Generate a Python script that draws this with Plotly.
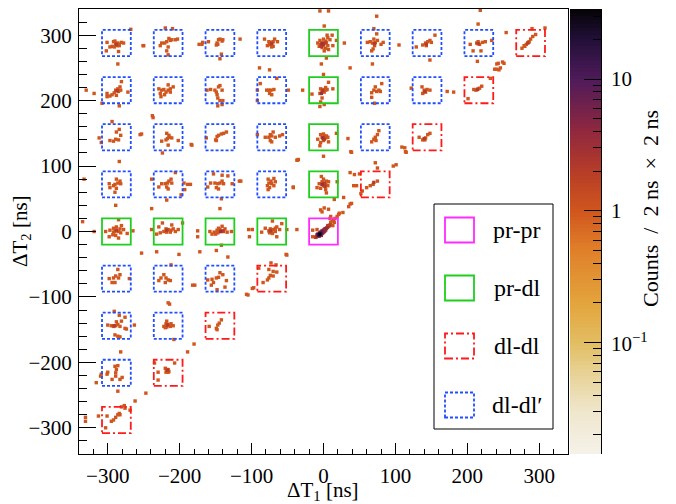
import numpy as np
import plotly.graph_objects as go

# ---------------- data ----------------
# timing windows (ns): centres on a 72 ns grid
grid_dt1 = [-288, -216, -144, -72, 0, 72, 144, 216, 288]
grid_dt2 = [288, 216, 144, 72, 0, -72, -144, -216, -288]
half_width = 20
# window type for each (ΔT2 row, ΔT1 column): m=pr-pr, g=pr-dl, r=dl-dl, b=dl-dl'
box_types = [
    ["b", "b", "b", "b", "g", "b", "b", "b", "r"],
    ["b", "b", "b", "b", "g", "b", "b", "r", ""],
    ["b", "b", "b", "b", "g", "b", "r", "", ""],
    ["b", "b", "b", "b", "g", "r", "", "", ""],
    ["g", "g", "g", "g", "m", "", "", "", ""],
    ["b", "b", "b", "r", "", "", "", "", ""],
    ["b", "b", "r", "", "", "", "", "", ""],
    ["b", "r", "", "", "", "", "", "", ""],
    ["r", "", "", "", "", "", "", "", ""],
]
legend_labels = ["pr-pr", "pr-dl", "dl-dl", "dl-dl\u2032"]

# single-count bins (ΔT1, ΔT2) in ns
single_dt1 = [
    -268, -301, -297, -302, -292, -290, -286, -287, -294, -291, -284, -281, -278, -285, -286, -251, -289, -285,
    -220, -210, -215, -227, -221, -218, -213, -211, -206, -203, -216, -218, -216, -225,
    -168, -169, -160, -148, -146, -144, -141, -147, -149, -142, -144, -116, -140, -173,
    -82, -76, -72, -70, -73, -70, -64, -68, -78, -75, -72,
    -5, 7, 1, 12, 6, 0, 3, -2, 4, -4, 0, 6, -6, -2, 3, 13, 18, 7, 1, 4, -3, 29, 5, 9, -8, -5,
    74, 70, 74, 70, 75, 72, 68, 61, 65, 83, 71, 69, 67, 68, 105, 37, 80,
    155, 148, 145, 142, 138, 143, 129, 148, 150,
    218, 215, 215, 213, 217, 204, 208, 219, 225, 234, 214, 221,
    276, 279, 282, 286, 288, 291, 295, 290, 308, 254, 280, 285,
    241, 243, 249, 238, 241, 244, 246, 251,
    -330, -319, -308, -281, -283, -286, -289, -285, -291, -294, -297, -301, -301, -272, -284, -288, -282,
    -216, -229, -225, -222, -219, -216, -213, -209, -221, -226, -213, -227,
    -162, -157, -151, -149, -146, -144, -141, -147, -144, -140, -147, -141, -148,
    -89, -75, -65, -88, -92, -79, -76, -73, -69, -75, -72, -49, -29, -92,
    0, 7, 3, -4, 0, 5, 1, -5, 13, -16, -2, -4, -5, 1, 3, -2,
    81, 72, 77, 70, 67, 74, 79, 67, 71,
    122, 137, 140, 144, 148, 138, 142, 172, 181,
    232, 220, 215, 212, 209, 201, 217,
    -294, -284, -288, -312, -309, -297, -292, -289, -285, -282, -255, -253,
    -237, -218, -215, -214, -217, -211, -219, -225, -216, -202, -224, -183,
    -163, -150, -148, -146, -142, -139, -135, -149,
    -70, -74, -81, -76, -72, -67, -61, -57, -74, -72, -92,
    18, -4, 0, 4, -2, 3, 6, -8, 0, -4, -5, 7, 1,
    77, 75, 72, 70, 67, 73, 109, 34, 38,
    148, 145, 142, 138, 133, 141, 113, 115, 39, -36,
    -184, -238, -239, -37, -42, -144, -250,
    -284, -288, -283, -286, -290, -282, -298, -292, -297, -288, -290, -289, -333,
    -212, -215, -217, -220, -225, -211, -229, -218, -216, -206, -239, -194, -189, -185, -193, -198, -218,
    -153, -141, -133, -141, -144, -147, -151, -139, -157, -161, -149, -146, -127, -117, -142,
    -77, -69, -73, -67, -76, -72, -78, -69, -75, -77, -42, -115, -35,
    0, -3, 0, 4, -2, 7, -6, 3, 0, 6, -9, -4, 3, 4, 19, 15,
    72, 75, 97, 101, 37, 43, 50, 75, 69, 65, 60, 54, 52, 42, 46, 114,
    28, 37, 39, 35, 27, 22, 7, 1, -4, -2,
    -285, -281, -288, -292, -283, -297, -290, -285, -278, -303, -293, -289, -298, -285, -273, -265, -319, -335, -282, -292,
    -224, -211, -229, -219, -216, -212, -209, -222, -218, -213, -206, -202, -227, -232, -239, -196, -175, -175,
    -141, -146, -137, -148, -144, -139, -152, -155, -134, -128, -158, -147, -142, -150, -144,
    -71, -58, -65, -81, -74, -70, -76, -72, -67, -61, -75, -71, -65, -86, -104, -99, -103, -37, -51, -67,
    -15, -9, -15, 10, 12, 14, 16, 19, 21, 9, 10, 15, 13,
    -253, -232, -201, -172, -149, -133, -52, -179, -107, -99,
    -286, -289, -292, -285, -294, -290, -270, -298, -283,
    -212, -222, -219, -226, -216, -213, -220, -229, -182,
    -144, -140, -146, -149, -155, -161, -153, -135, -148, -137, -156,
    -73, -51, -66, -76, -70, -65, -74, -70, -76, -78, -84, -90, -97, -105,
    -291, -284, -276, -300, -295, -292, -289, -286, -283, -288, -281, -276, -274, -263, -286, -283, -290,
    -216, -214, -218, -219, -216, -212, -222, -218, -213, -209, -220, -208,
    -159, -149, -147, -145, -142, -148,
    -180, -189, -247, -262,
    -220, -218, -216, -219, -216, -215, -230, -230, -207, -235,
    -282, -290, -286, -288, -289, -289, -300, -301, -309, -310, -294, -283, -280, -286, -316,
    -277, -281, -276, -284, -286, -289, -283, -292, -295, -301, -313, -303, -331, -331, -269,
]
single_dt2 = [
    309, 289, 282, 276, 290, 291, 288, 284, 283, 282, 284, 289, 288, 275, 256, 284, 287, 286,
    311, 310, 295, 284, 288, 290, 292, 293, 293, 294, 282, 276, 270, 288,
    289, 286, 290, 288, 293, 294, 291, 286, 285, 271, 264, 294, 293, 286,
    294, 290, 289, 290, 285, 283, 290, 294, 284, 286, 282,
    337, 337, 314, 300, 296, 294, 291, 289, 289, 286, 286, 284, 283, 281, 280, 284, 292, 278, 276, 265, 256, 288, 300, 293, 288, 292,
    329, 310, 302, 294, 292, 289, 288, 289, 290, 289, 284, 279, 276, 256, 285, 250, 286,
    300, 292, 290, 288, 285, 284, 282, 262, 289,
    338, 317, 290, 288, 286, 286, 276, 276, 290, 292, 260, 289,
    280, 284, 286, 290, 294, 298, 301, 310, 311, 304, 283, 289,
    256, 257, 259, 248, 248, 247, 250, 257,
    216, 211, 196, 229, 221, 218, 216, 214, 212, 209, 207, 206, 211, 213, 192, 208, 216,
    224, 218, 216, 217, 213, 216, 218, 221, 209, 206, 213, 211,
    216, 217, 216, 213, 221, 223, 216, 204, 200, 200, 192, 194, 209,
    250, 247, 234, 226, 216, 216, 216, 216, 217, 211, 209, 216, 216, 200,
    240, 228, 220, 218, 217, 217, 213, 211, 218, 210, 204, 198, 191, 194, 216, 214,
    226, 221, 216, 216, 212, 214, 214, 205, 196,
    219, 221, 216, 217, 216, 211, 213, 214, 213,
    234, 222, 218, 216, 217, 203, 219,
    168, 156, 152, 143, 136, 139, 138, 141, 140, 147, 148, 149,
    174, 150, 147, 144, 142, 143, 140, 138, 132, 139, 120, 132,
    143, 140, 145, 147, 149, 150, 152, 139,
    152, 148, 144, 144, 146, 144, 146, 148, 139, 137, 148,
    150, 148, 149, 146, 144, 143, 144, 141, 139, 136, 131, 137, 146,
    154, 148, 144, 141, 137, 139, 129, 142, 122,
    150, 148, 143, 140, 144, 140, 128, 121, 121, 109,
    133, 177, 35, 109, 68, 35, 284,
    107, 80, 77, 74, 72, 73, 73, 70, 67, 66, 60, 40, 80,
    80, 77, 74, 73, 73, 74, 68, 68, 65, 90, 80, 74, 72, 72, 64, 56, 48,
    88, 86, 85, 77, 74, 73, 74, 73, 74, 68, 67, 65, 73, 77, 50,
    80, 81, 77, 76, 74, 73, 70, 70, 67, 64, 67, 77, 110,
    115, 84, 80, 77, 76, 76, 73, 72, 70, 70, 67, 66, 64, 59, 76, 49,
    105, 97, 100, 102, 90, 87, 88, 77, 72, 70, 67, 62, 58, 70, 70, 122,
    52, 42, 43, 38, 29, 28, 34, 36, 33, 30,
    18, 9, 7, 5, 4, 2, 0, 0, 3, 0, -5, -6, -8, -10, -3, 1, 0, 15, -2, -1,
    13, 10, 7, 4, 3, 2, 4, 0, -1, -1, 0, 3, -2, -4, 3, 13, 1, -8,
    8, 5, 4, 2, 0, 0, -1, -4, -1, 0, 0, -2, -21, -4, 3,
    16, 12, 7, 5, 4, 3, 1, 0, 0, 3, -2, -3, -8, -1, 3, 3, -8, 3, 3, 5,
    2, 3, -8, 14, 16, 18, 20, 23, 26, 20, 23, 14, 9,
    -33, -31, -35, -31, -29, -39, -35, -82, -96, -87,
    -58, -68, -71, -71, -78, -78, -72, -72, -66,
    -51, -66, -71, -71, -74, -75, -78, -75, -82,
    -63, -66, -70, -71, -73, -74, -78, -75, -89, -85, -82,
    -48, -36, -51, -58, -61, -62, -67, -68, -71, -74, -78, -56, -86, -97,
    -122, -128, -131, -143, -144, -145, -144, -142, -145, -138, -137, -148, -149, -143, -160, -161, -158,
    -109, -111, -137, -141, -142, -141, -145, -146, -145, -144, -147, -165,
    -145, -148, -143, -140, -135, -150,
    -172, -184, -247, -259,
    -209, -211, -211, -215, -215, -214, -215, -227, -201, -201,
    -184, -206, -205, -211, -216, -221, -215, -218, -218, -221, -226, -226, -223, -244, -231,
    -266, -268, -270, -278, -280, -284, -280, -288, -290, -282, -282, -300, -284, -290, -273,
]

# multi-count bins
multi_dt1 = [
    -2, 0, 2, -3, -1, -3, -1, 1, -2, 1, 2, -143, -140, -288, -74, -218, 284, -72, 71, 143, 215,
    -217, -217, -291, -288, -287, 70, 140, 214, 141,
    -10, -9, 2, 3, -2, 1, 0, -6, -1, 3, -5, -2, -4, 4, 0, 5, 6, 7, 8, -3, -7, -4, -6, -5,
    -8, -7, -4, -2, 1, 2, -6, -3, -11, -9, 6, 9,
]
multi_dt2 = [
    287, 285, 288, 283, 215, 211, 143, 141, 72, 74, 69, 0, 1, 2, 1, 2, 288, 287, 287, 286, 287,
    -212, -143, -144, 286, 215, 75, 142, 217, 214,
    -8, -7, 1, 2, 1, 0, 2, -3, -2, 4, -2, -3, -5, 5, -1, 6, 7, 8, 9, -2, -5, -3, -5, -4,
    -4, -7, -1, 0, 3, 4, -7, -6, -9, -5, 9, 10,
]
multi_counts = [
    3, 2, 2, 2, 2, 3, 3, 2, 3, 2, 2, 3, 2, 2, 2, 2, 2, 2, 2, 2, 2,
    2, 2, 2, 2, 2, 2, 2, 2, 2,
    2, 3, 2, 2, 3, 3, 4, 6, 4, 4, 5, 5, 6, 3, 3, 3, 2, 2, 2, 8, 12, 10, 20, 30,
    6, 5, 8, 6, 4, 3, 4, 3, 2, 3, 2, 2,
]

# colour axis (counts, log scale)
z_min, z_max = 0.0143, 34.0
cbar_major = [0.1, 1, 10]
cbar_major_text = ["10<sup>\u22121</sup>", "1", "10"]
cbar_minor = [0.02, 0.03, 0.04, 0.05, 0.06, 0.07, 0.08, 0.09,
              0.2, 0.3, 0.4, 0.5, 0.6, 0.7, 0.8, 0.9,
              2, 3, 4, 5, 6, 7, 8, 9, 20, 30]
cbar_title = "Counts\u00a0 /\u00a0 2 ns\u00a0 \u00d7\u00a0 2 ns"

# ---------------- style ----------------
FONT = "Liberation Serif"
lmin, lmax = np.log10(z_min), np.log10(z_max)
stops = [(0.0143, "#f5f2ea"), (0.03, "#efe6cc"), (0.06, "#e7d193"), (0.1, "#e2bd62"),
         (0.2, "#e3a43c"), (0.5, "#e0802a"), (1, "#d0561e"), (2, "#b63c28"),
         (4, "#90283e"), (10, "#4f1a5a"), (20, "#211038"), (34, "#050305")]
colorscale = [[min(1.0, max(0.0, (np.log10(v) - lmin) / (lmax - lmin))), c] for v, c in stops]

box_style = {
    "m": dict(color="#ff2bff", width=1.8, dash="solid"),
    "g": dict(color="#1fcf1f", width=1.8, dash="solid"),
    "r": dict(color="#ff1a1a", width=1.8, dash="8px,3px,2px,3px"),
    "b": dict(color="#1f4fff", width=1.8, dash="3px,2px"),
}
legend_keys = ["m", "g", "r", "b"]

# the page adds an 8 px body margin; figure is sized so the page matches 676x504
OFF = 8
W, H = 676 - OFF, 504 - OFF
L, R, T, B = 79 - OFF, 20, 9 - OFF, 50
PW, PH = W - L - R, H - T - B


def pxx(v):
    return (v - OFF - L) / PW


def pxy(v):
    return (H - B - (v - OFF)) / PH


fig = go.Figure()

# points
fig.add_trace(go.Scatter(
    x=single_dt1, y=single_dt2, mode="markers",
    marker=dict(symbol="square", size=3.4, color=[0.0] * len(single_dt1),
                colorscale=colorscale, cmin=lmin, cmax=lmax, line=dict(width=0)),
    showlegend=False, hoverinfo="skip"))
order = np.argsort(multi_counts, kind="stable")
fig.add_trace(go.Scatter(
    x=[multi_dt1[i] for i in order], y=[multi_dt2[i] for i in order], mode="markers",
    marker=dict(symbol="square", size=3.4,
                color=[float(np.log10(multi_counts[i])) for i in order],
                colorscale=colorscale, cmin=lmin, cmax=lmax, line=dict(width=0)),
    showlegend=False, hoverinfo="skip"))

# colour bar drawn as a heatmap on its own axes
edges = np.linspace(lmin, lmax, 121)
mids = 0.5 * (edges[1:] + edges[:-1])
fig.add_trace(go.Heatmap(
    x=[0, 1], y=edges, z=[[m] for m in mids], xaxis="x2", yaxis="y2",
    colorscale=colorscale, zmin=lmin, zmax=lmax, showscale=False, hoverinfo="skip"))

shapes = []
for ri, cy in enumerate(grid_dt2):
    for ci, cx in enumerate(grid_dt1):
        t = box_types[ri][ci]
        if not t:
            continue
        shapes.append(dict(type="rect", xref="x", yref="y",
                           x0=cx - half_width, x1=cx + half_width,
                           y0=cy - half_width, y1=cy + half_width,
                           line=box_style[t], fillcolor="rgba(0,0,0,0)", layer="above"))

# legend
shapes.append(dict(type="rect", xref="paper", yref="paper",
                   x0=pxx(434), x1=pxx(553), y0=pxy(429), y1=pxy(204),
                   line=dict(color="black", width=1), fillcolor="white", layer="above"))
annotations = []
leg_rows = [230, 288, 346, 405]
for k, yc in zip(legend_keys, leg_rows):
    shapes.append(dict(type="rect", xref="paper", yref="paper",
                       x0=pxx(445), x1=pxx(474), y0=pxy(yc + 12.5), y1=pxy(yc - 12.5),
                       line=box_style[k], fillcolor="rgba(0,0,0,0)", layer="above"))
for lab, yc in zip(legend_labels, leg_rows):
    annotations.append(dict(x=pxx(517), y=pxy(yc), xref="paper", yref="paper",
                            text=lab, showarrow=False, xanchor="center", yanchor="middle",
                            font=dict(family=FONT, size=24, color="black")))

# colour-bar tick labels
for v, txt in zip(cbar_major, cbar_major_text):
    annotations.append(dict(x=pxx(609), y=float(np.log10(v)), xref="paper", yref="y2",
                            text=txt, showarrow=False, xanchor="left", yanchor="middle",
                            font=dict(family=FONT, size=21, color="black")))

annotations.append(dict(x=pxx(323), y=pxy(491), xref="paper", yref="paper",
                        text="\u0394T<sub>1</sub> [ns]", showarrow=False,
                        xanchor="center", yanchor="middle",
                        font=dict(family=FONT, size=21, color="black")))
annotations.append(dict(x=pxx(21), y=pxy(231), xref="paper", yref="paper",
                        text="\u0394T<sub>2</sub> [ns]", showarrow=False, textangle=-90,
                        xanchor="center", yanchor="middle",
                        font=dict(family=FONT, size=21, color="black")))
annotations.append(dict(x=pxx(650), y=pxy(209), xref="paper", yref="paper",
                        text=cbar_title, showarrow=False, textangle=-90,
                        xanchor="center", yanchor="middle",
                        font=dict(family=FONT, size=22, color="black")))

axis_common = dict(showline=True, linecolor="black", linewidth=1, mirror=True,
                   ticks="inside", tickcolor="black", tickwidth=1,
                   showgrid=False, zeroline=False, automargin=False,
                   tickfont=dict(family=FONT, size=21, color="black"))

fig.update_layout(
    width=W, height=H, margin=dict(l=L, r=R, t=T, b=B, autoexpand=False),
    paper_bgcolor="white", plot_bgcolor="white",
    font=dict(family=FONT, size=21, color="black"),
    xaxis=dict(domain=[0, pxx(568)], range=[-340, 340], tick0=0, dtick=100, ticklen=11,
               minor=dict(dtick=20, tick0=0, ticklen=5.5, ticks="inside", tickcolor="black"),
               ticklabelstandoff=3, **axis_common),
    yaxis=dict(domain=[0, 1], range=[-340, 340], tick0=0, dtick=100, ticklen=17,
               minor=dict(dtick=20, tick0=0, ticklen=8, ticks="inside", tickcolor="black"),
               ticklabelstandoff=2, **axis_common),
    xaxis2=dict(domain=[pxx(570), pxx(601)], range=[0, 1], anchor="y2", automargin=False,
                showticklabels=False, ticks="", showgrid=False, zeroline=False, showline=False),
    yaxis2=dict(domain=[0, 1], range=[lmin, lmax], anchor="x2", side="right", automargin=False,
                showline=True, linecolor="black", linewidth=1, ticks="inside",
                tickmode="array", tickvals=[float(np.log10(v)) for v in cbar_major],
                showticklabels=False, ticklen=17, tickcolor="black",
                minor=dict(tickmode="array", tickvals=[float(np.log10(v)) for v in cbar_minor],
                           ticklen=8, ticks="inside", tickcolor="black"),
                showgrid=False, zeroline=False),
    shapes=shapes, annotations=annotations, showlegend=False,
)

fig.write_html("out.html")
